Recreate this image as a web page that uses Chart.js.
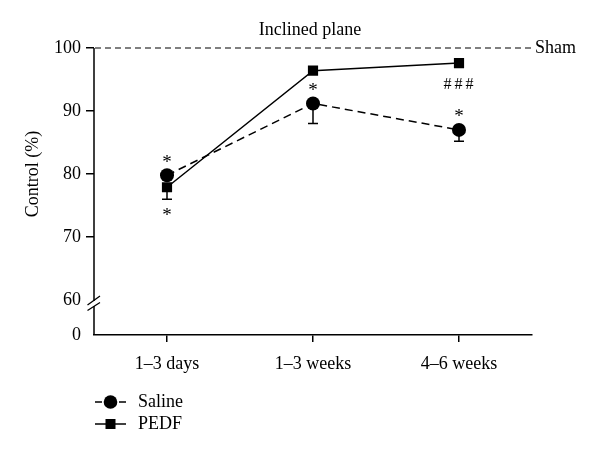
<!DOCTYPE html>
<html>
<head>
<meta charset="utf-8">
<script src="https://cdn.jsdelivr.net/npm/chart.js@4/dist/chart.umd.min.js"></script>
<style>
  html, body { margin: 0; padding: 0; background: #fff; }
  #wrap { width: 600px; height: 458px; position: relative; }
</style>
</head>
<body>
<div id="wrap"><canvas id="c" width="600" height="458"></canvas></div>
<script>
// ---- data ----
const categories = ['1–3 days', '1–3 weeks', '4–6 weeks'];
const seriesNames = ['Saline', 'PEDF'];
const salineMean = [79.8, 91.2, 87.0];
const salineErr  = [0, 3.2, 1.8];
const pedfMean   = [77.9, 96.4, 97.6];
const pedfErr    = [1.9, 0, 0];
const salineMarks = ['*', '*', '*'];      // shown above Saline points
const pedfMarks   = ['*', '', '###'];     // shown below PEDF points
const yTickValues = [60, 70, 80, 90, 100];
const yBreakValue = 54.44;                // where the "0" of the broken axis sits
const yBreakLabel = '0';
const shamValue = 100;
const shamLabel = 'Sham';
const titleText = 'Inclined plane';
const yTitle = 'Control (%)';

const FONT = '"Liberation Serif", "Times New Roman", serif';

const decor = {
  id: 'decor',
  beforeDatasetsDraw(chart) {
    const ctx = chart.ctx, ya = chart.scales.y, ca = chart.chartArea;
    ctx.save();
    ctx.strokeStyle = '#000';
    // broken y axis
    const ax = ca.left;
    const yTop = ya.getPixelForValue(100);
    const y60 = ya.getPixelForValue(60);
    const y0 = ya.getPixelForValue(yBreakValue);
    ctx.lineWidth = 1.5;
    ctx.beginPath();
    ctx.moveTo(ax, yTop); ctx.lineTo(ax, y60 + 1);
    ctx.moveTo(ax, y60 + 6); ctx.lineTo(ax, y0);
    ctx.stroke();
    ctx.lineWidth = 1.3;
    ctx.beginPath();
    ctx.moveTo(ax - 6.5, y60 + 5); ctx.lineTo(ax + 6, y60 - 4);
    ctx.moveTo(ax - 6.5, y60 + 10.5); ctx.lineTo(ax + 6, y60 + 2.5);
    ctx.stroke();
    // sham dashed line
    const ys = ya.getPixelForValue(shamValue);
    ctx.lineWidth = 1.2;
    ctx.setLineDash([6, 4]);
    ctx.beginPath();
    ctx.moveTo(ax + 1, ys); ctx.lineTo(ca.right, ys);
    ctx.stroke();
    ctx.setLineDash([]);
    ctx.fillStyle = '#000';
    ctx.font = '18px ' + FONT;
    ctx.textAlign = 'left';
    ctx.textBaseline = 'middle';
    ctx.fillText(shamLabel, ca.right + 3, ys);
    // title
    ctx.textAlign = 'center';
    ctx.fillText(titleText, (ca.left + ca.right) / 2 - 3, 30);
    // y title
    ctx.save();
    ctx.translate(33, (yTop + y60) / 2);
    ctx.rotate(-Math.PI / 2);
    ctx.fillText(yTitle, 0, 0);
    ctx.restore();
    // error bars (downward)
    const errs = [salineErr, pedfErr];
    const means = [salineMean, pedfMean];
    ctx.lineWidth = 1.5;
    chart.data.datasets.forEach((ds, i) => {
      const meta = chart.getDatasetMeta(i);
      meta.data.forEach((pt, j) => {
        if (!errs[i][j]) return;
        const yA = ya.getPixelForValue(means[i][j]);
        const yB = ya.getPixelForValue(means[i][j] - errs[i][j]);
        ctx.beginPath();
        ctx.moveTo(pt.x, yA); ctx.lineTo(pt.x, yB);
        ctx.moveTo(pt.x - 5, yB); ctx.lineTo(pt.x + 5, yB);
        ctx.stroke();
      });
    });
    ctx.restore();
  },
  afterDraw(chart) {
    const ctx = chart.ctx, ya = chart.scales.y;
    ctx.save();
    ctx.fillStyle = '#000';
    ctx.textAlign = 'center';
    ctx.textBaseline = 'alphabetic';
    function centered(txt, x, y, size, spacing) {
      ctx.font = size + 'px ' + FONT;
      ctx.letterSpacing = spacing || '0px';
      const m = ctx.measureText(txt);
      const base = y + (m.actualBoundingBoxAscent - m.actualBoundingBoxDescent) / 2;
      ctx.fillText(txt, x, base);
    }
    const m0 = chart.getDatasetMeta(0), m1 = chart.getDatasetMeta(1);
    salineMarks.forEach((t, j) => {
      if (!t) return;
      const p = m0.data[j];
      centered(t, p.x, ya.getPixelForValue(salineMean[j]) - 17, 19);
    });
    pedfMarks.forEach((t, j) => {
      if (!t) return;
      const p = m1.data[j];
      const yb = Math.max(ya.getPixelForValue(pedfMean[j]) + 20,
                          ya.getPixelForValue(pedfMean[j] - pedfErr[j]) + 12);
      centered(t, p.x + (t.length > 1 ? 1 : 0), yb, t.length > 1 ? 16 : 19, t.length > 1 ? '3px' : '0px');
    });
    ctx.letterSpacing = '0px';
    // legend
    const lx = 95, ly = [402, 424];
    chart.data.datasets.forEach((ds, i) => {
      const y = ly[i];
      ctx.strokeStyle = '#000';
      ctx.lineWidth = 1.5;
      ctx.beginPath();
      if (i === 0) {
        ctx.moveTo(lx, y); ctx.lineTo(lx + 7, y);
        ctx.moveTo(lx + 24, y); ctx.lineTo(lx + 31, y);
      } else {
        ctx.moveTo(lx, y); ctx.lineTo(lx + 31, y);
      }
      ctx.stroke();
      ctx.fillStyle = '#000';
      if (i === 0) {
        ctx.beginPath(); ctx.arc(lx + 15.5, y, 6.8, 0, Math.PI * 2); ctx.fill();
      } else {
        ctx.fillRect(lx + 10.5, y - 5, 10, 10);
      }
      ctx.font = '18px ' + FONT;
      ctx.textAlign = 'left';
      ctx.textBaseline = 'middle';
      ctx.fillText(ds.label, 138, y);
    });
    ctx.restore();
  }
};

new Chart(document.getElementById('c'), {
  type: 'line',
  data: {
    labels: categories,
    datasets: [
      {
        label: seriesNames[0], data: salineMean,
        borderColor: '#000', backgroundColor: '#000', borderWidth: 1.5,
        borderDash: [8, 5], pointStyle: 'circle', pointRadius: 7,
        pointBorderWidth: 0, tension: 0, order: 2
      },
      {
        label: seriesNames[1], data: pedfMean,
        borderColor: '#000', backgroundColor: '#000', borderWidth: 1.5,
        pointStyle: 'rect', pointRadius: 7.2,
        pointBorderWidth: 0, tension: 0, order: 1
      }
    ]
  },
  options: {
    responsive: false,
    animation: false,
    events: [],
    layout: { padding: { left: 0, right: 68, top: 48, bottom: 83 } },
    plugins: { legend: { display: false }, title: { display: false }, tooltip: { enabled: false } },
    scales: {
      x: {
        type: 'category', offset: true,
        afterFit: s => { s.height = 40; },
        grid: { drawOnChartArea: false, drawTicks: true, tickLength: 7, color: '#000', lineWidth: 1.5 },
        border: { display: true, color: '#000', width: 1.5 },
        ticks: { color: '#000', font: { family: FONT, size: 18 }, padding: 11, maxRotation: 0 }
      },
      y: {
        type: 'linear', min: yBreakValue, max: 100,
        afterFit: s => { s.width = 94; },
        afterBuildTicks: s => { s.ticks = [yBreakValue].concat(yTickValues).map(v => ({ value: v })); },
        grid: {
          drawOnChartArea: false, drawTicks: true, tickLength: 8, lineWidth: 1.5,
          color: c => (c.tick && (c.tick.value === 60 || c.tick.value === yBreakValue)) ? 'rgba(0,0,0,0)' : '#000'
        },
        border: { display: false },
        ticks: {
          color: '#000', font: { family: FONT, size: 18 }, padding: 5,
          callback: v => (v === yBreakValue ? yBreakLabel : String(v))
        }
      }
    }
  },
  plugins: [decor]
});
</script>
</body>
</html>
